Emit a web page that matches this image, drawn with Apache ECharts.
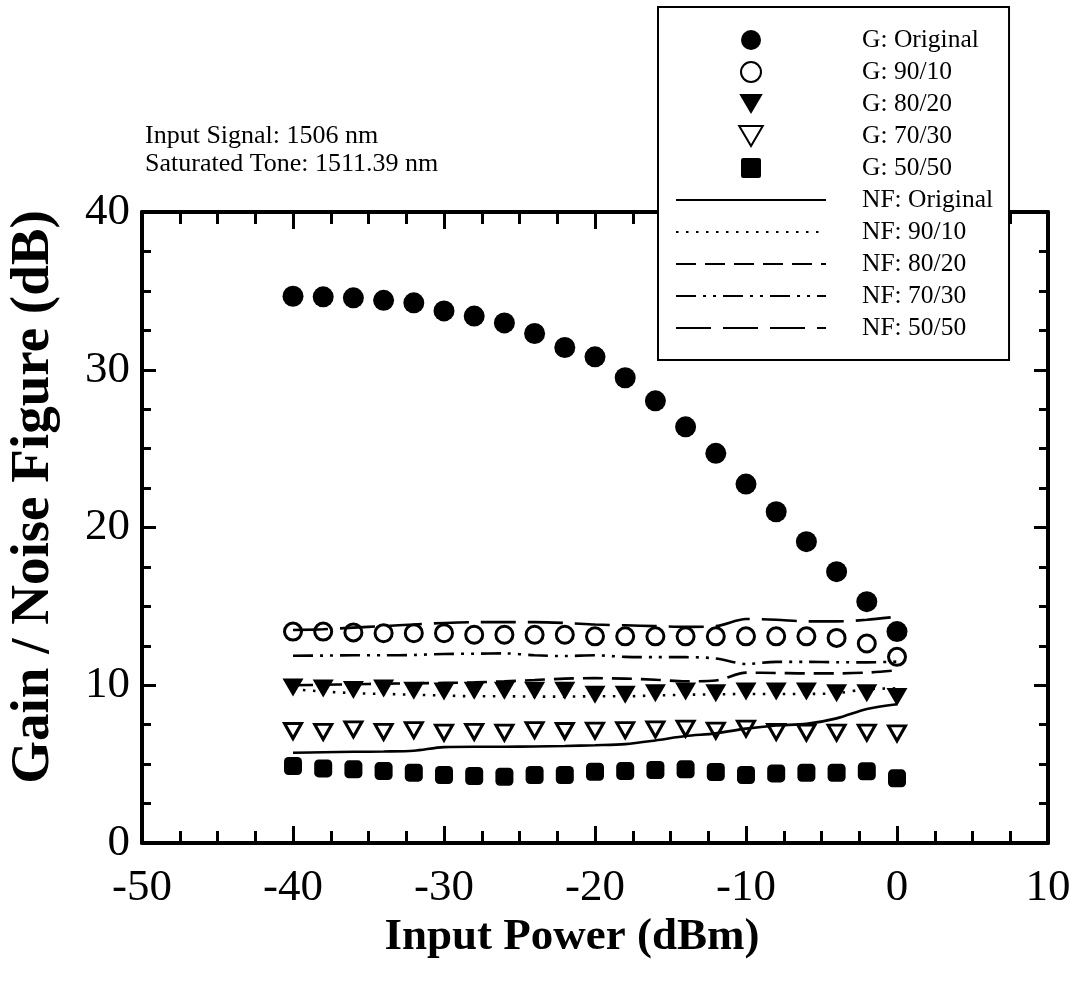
<!DOCTYPE html>
<html>
<head>
<meta charset="utf-8">
<script src="https://cdn.jsdelivr.net/npm/echarts@6/dist/echarts.min.js"></script>
<style>
  html, body { margin: 0; padding: 0; background: #fff; }
  #chart { width: 1072px; height: 992px; }
</style>
</head>
<body>
<div id="chart"></div>
<script>
// Input power sweep (dBm)
const inputPower = [-40, -38, -36, -34, -32, -30, -28, -26, -24, -22, -20, -18, -16, -14, -12, -10, -8, -6, -4, -2, 0];

// Gain (dB) per coupler ratio
const gainOriginal = [34.66, 34.62, 34.56, 34.4, 34.24, 33.73, 33.4, 32.97, 32.3, 31.41, 30.82, 29.49, 28.03, 26.38, 24.7, 22.75, 21.0, 19.1, 17.2, 15.3, 13.4];
const gain9010 = [13.4, 13.4, 13.35, 13.3, 13.3, 13.3, 13.2, 13.2, 13.2, 13.2, 13.1, 13.1, 13.1, 13.1, 13.1, 13.1, 13.1, 13.1, 13.0, 12.65, 11.8];
const gain8020 = [9.85, 9.8, 9.7, 9.8, 9.65, 9.6, 9.65, 9.65, 9.65, 9.65, 9.4, 9.4, 9.5, 9.6, 9.5, 9.6, 9.6, 9.6, 9.5, 9.5, 9.25];
const gain7030 = [7.1, 7.05, 7.2, 7.05, 7.15, 7.0, 7.05, 7.0, 7.15, 7.1, 7.12, 7.15, 7.2, 7.25, 7.12, 7.25, 7.05, 7.0, 7.0, 7.0, 6.95];
const gain5050 = [4.88, 4.73, 4.67, 4.56, 4.46, 4.31, 4.25, 4.2, 4.31, 4.31, 4.52, 4.56, 4.63, 4.67, 4.5, 4.31, 4.41, 4.45, 4.45, 4.55, 4.1];

// Noise figure (dB) per coupler ratio
const nfOriginal = [5.72, 5.75, 5.78, 5.8, 5.85, 6.08, 6.1, 6.1, 6.12, 6.15, 6.2, 6.27, 6.5, 6.78, 6.95, 7.25, 7.45, 7.55, 7.9, 8.5, 8.8];
const nf9010 = [9.75, 9.6, 9.5, 9.45, 9.4, 9.35, 9.3, 9.3, 9.28, 9.28, 9.3, 9.3, 9.35, 9.4, 9.42, 9.45, 9.45, 9.45, 9.5, 9.75, 9.8];
const nf8020 = [10.0, 10.03, 10.06, 10.1, 10.12, 10.15, 10.18, 10.25, 10.33, 10.42, 10.45, 10.42, 10.35, 10.25, 10.3, 10.8, 10.78, 10.75, 10.75, 10.8, 10.95];
const nf7030 = [11.87, 11.88, 11.9, 11.9, 11.92, 11.98, 12.0, 12.02, 11.9, 11.85, 11.9, 11.8, 11.78, 11.78, 11.7, 11.35, 11.48, 11.48, 11.46, 11.45, 11.5];
const nf5050 = [13.5, 13.55, 13.65, 13.75, 13.85, 13.95, 14.0, 14.0, 14.0, 13.95, 13.85, 13.8, 13.75, 13.7, 13.75, 14.2, 14.15, 14.05, 14.05, 14.15, 14.35];

// Axis ticks
const xTicks = { min: -50, max: 10, step: 10 };
const yTicks = { min: 0, max: 40, step: 10 };

const FONT = '"Liberation Serif", "Times New Roman", Times, serif';

// Legend icons for the gain markers (kept at their own aspect ratio)
const ICON_TRI_DOWN = 'path://M0,0 L20,0 L10,17 Z';
const ICON_SQUARE = 'path://M2,0 H16 Q18,0 18,2 V16 Q18,18 16,18 H2 Q0,18 0,16 V2 Q0,0 2,0 Z';

function pairs(ys) { return inputPower.map((x, i) => [x, ys[i]]); }

function gainSeries(name, ys, symbol, size, hollow, rotate) {
  return {
    name, type: 'scatter', data: pairs(ys), symbol, symbolSize: size,
    symbolRotate: rotate || 0, z: 3,
    itemStyle: hollow
      ? { color: '#fff', borderColor: '#000', borderWidth: 3, opacity: 1 }
      : { color: '#000', borderWidth: 0, opacity: 1 },
    emphasis: { disabled: true }
  };
}

function nfSeries(name, ys, dash) {
  return {
    name, type: 'line', data: pairs(ys), symbol: 'none', smooth: 0.3, z: 4,
    lineStyle: { color: '#000', width: 2.6, type: dash, cap: 'butt' },
    itemStyle: { color: '#000' },
    emphasis: { disabled: true }
  };
}

function baseX(pos, showLabels) {
  return {
    type: 'value', position: pos, min: xTicks.min, max: xTicks.max, interval: xTicks.step,
    axisLine: { show: true, onZero: false, lineStyle: { color: '#000', width: 4 } },
    axisTick: { show: true, inside: true, length: 17, lineStyle: { color: '#000', width: 3 } },
    minorTick: { show: true, splitNumber: 4, length: 12, lineStyle: { color: '#000', width: 3 } },
    splitLine: { show: false },
    axisLabel: { show: showLabels, color: '#000', fontFamily: FONT, fontSize: 45, margin: 23 }
  };
}

function baseY(pos, showLabels) {
  return {
    type: 'value', position: pos, min: yTicks.min, max: yTicks.max, interval: yTicks.step,
    axisLine: { show: true, onZero: false, lineStyle: { color: '#000', width: 4 } },
    axisTick: { show: true, inside: true, length: 14, lineStyle: { color: '#000', width: 3 } },
    minorTick: { show: true, splitNumber: 4, length: 9, lineStyle: { color: '#000', width: 3 } },
    splitLine: { show: false },
    axisLabel: { show: showLabels, color: '#000', fontFamily: FONT, fontSize: 45, margin: 12 }
  };
}

const chart = echarts.init(document.getElementById('chart'), null, { renderer: 'canvas' });

const hideDot = { opacity: 0 };

chart.setOption({
  animation: false,
  backgroundColor: '#fff',
  title: {
    text: 'Input Signal: 1506 nm\nSaturated Tone: 1511.39 nm',
    left: 140, top: 117,
    textStyle: { color: '#000', fontFamily: FONT, fontSize: 26, fontWeight: 'normal', lineHeight: 28 }
  },
  grid: { left: 142, right: 24, top: 212, bottom: 149, containLabel: false, outerBoundsMode: 'none' },
  xAxis: [baseX('bottom', true), baseX('top', false)],
  yAxis: [baseY('left', true), baseY('right', false)],
  graphic: [
    {
      type: 'text', x: 572, y: 937,
      style: { text: 'Input Power (dBm)', fill: '#000', font: 'bold 45px ' + FONT, align: 'center', verticalAlign: 'middle' }
    },
    {
      type: 'text', x: 34, y: 497, rotation: Math.PI / 2,
      style: { text: 'Gain / Noise Figure (dB)', fill: '#000', font: 'bold 55px ' + FONT, align: 'center', verticalAlign: 'middle' }
    }
  ],
  legend: {
    orient: 'vertical', left: 658, top: 7,
    padding: [19, 16, 18, 17],
    itemWidth: 150, itemHeight: 20, itemGap: 4,
    backgroundColor: '#fff', borderColor: '#000', borderWidth: 2,
    textStyle: { color: '#000', fontFamily: FONT, fontSize: 25.5, lineHeight: 28, padding: [0, 0, 0, 31] },
    z: 10,
    data: [
      { name: 'G: Original' },
      { name: 'G: 90/10' },
      { name: 'G: 80/20', icon: ICON_TRI_DOWN },
      { name: 'G: 70/30', icon: ICON_TRI_DOWN },
      { name: 'G: 50/50', icon: ICON_SQUARE },
      { name: 'NF: Original', itemStyle: hideDot },
      { name: 'NF: 90/10', itemStyle: hideDot },
      { name: 'NF: 80/20', itemStyle: hideDot },
      { name: 'NF: 70/30', itemStyle: hideDot },
      { name: 'NF: 50/50', itemStyle: hideDot }
    ]
  },
  series: [
    gainSeries('G: Original', gainOriginal, 'circle', 21, false),
    gainSeries('G: 90/10', gain9010, 'circle', 17, true),
    gainSeries('G: 80/20', gain8020, 'triangle', [21, 18], false, 180),
    gainSeries('G: 70/30', gain7030, 'triangle', [17, 15], true, 180),
    gainSeries('G: 50/50', gain5050, 'roundRect', 18, false),
    nfSeries('NF: Original', nfOriginal, 'solid'),
    nfSeries('NF: 90/10', nf9010, [2.5, 7.5]),
    nfSeries('NF: 80/20', nf8020, [20, 9]),
    nfSeries('NF: 70/30', nf7030, [20, 7, 3, 7, 3, 7]),
    nfSeries('NF: 50/50', nf5050, [35, 12])
  ]
});
</script>
</body>
</html>
